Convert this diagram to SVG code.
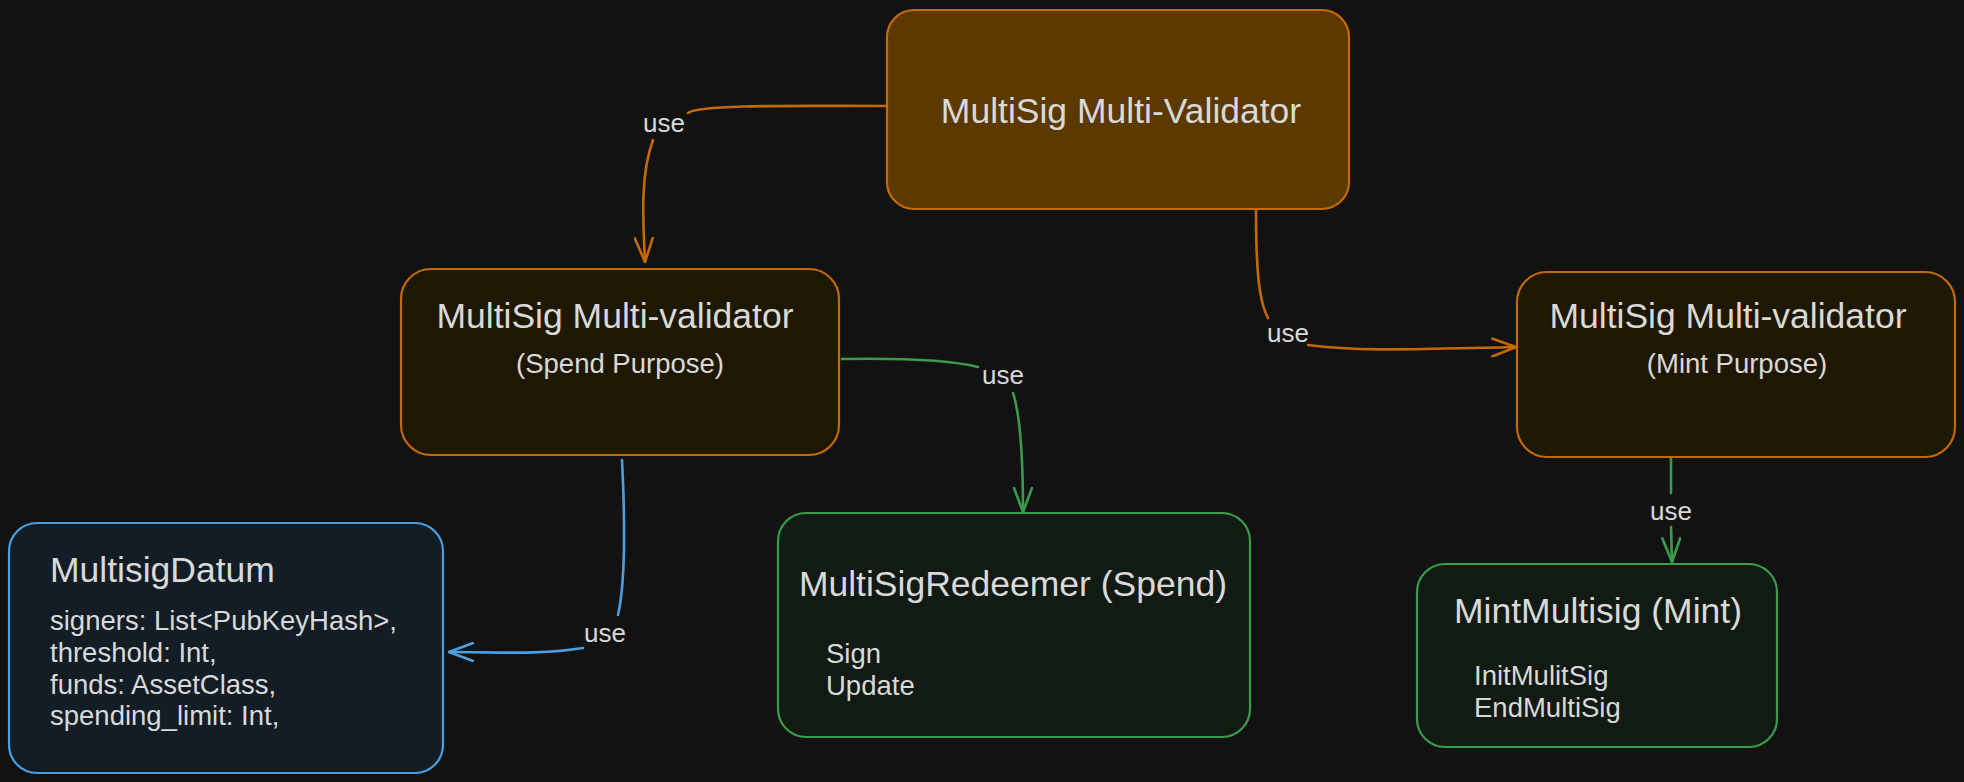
<svg xmlns="http://www.w3.org/2000/svg" width="1964" height="782" viewBox="0 0 1964 782">
  <defs>
    <style>
      .t { font-family: "Liberation Sans", Arial, sans-serif; fill: #d9d9d9; }
      .title { font-size: 35.5px; }
      .sub { font-size: 27.5px; }
      .lbl { font-size: 26px; text-anchor: middle; }
      .mid { text-anchor: middle; }
      .orange { stroke: #c46a05; }
      .green { stroke: #3a9c4a; }
      .blue { stroke: #4a9fe3; }
      .box { stroke-width: 2.2; }
      .conn { fill: none; stroke-width: 2.6; stroke-linecap: round; }
    </style>
    <marker id="arrO" viewBox="0 0 26 20" refX="25" refY="10" markerWidth="26" markerHeight="20" markerUnits="userSpaceOnUse" orient="auto">
      <path d="M1,1 L25,10 L1,19" fill="none" stroke="#c46a05" stroke-width="2.6" stroke-linecap="round" stroke-linejoin="round"/>
    </marker>
    <marker id="arrG" viewBox="0 0 26 20" refX="25" refY="10" markerWidth="26" markerHeight="20" markerUnits="userSpaceOnUse" orient="auto">
      <path d="M1,1 L25,10 L1,19" fill="none" stroke="#3a9c4a" stroke-width="2.6" stroke-linecap="round" stroke-linejoin="round"/>
    </marker>
    <marker id="arrB" viewBox="0 0 26 20" refX="25" refY="10" markerWidth="26" markerHeight="20" markerUnits="userSpaceOnUse" orient="auto">
      <path d="M1,1 L25,10 L1,19" fill="none" stroke="#4a9fe3" stroke-width="2.6" stroke-linecap="round" stroke-linejoin="round"/>
    </marker>
  </defs>

  <rect x="0" y="0" width="1964" height="782" fill="#121212"/>

  <g id="connectors">
    <path class="conn orange" d="M887,106 C800,106 700,104 688,113"/>
    <path class="conn orange" d="M653,140 C640,175 643,220 645,262" marker-end="url(#arrO)"/>
    <text class="t lbl" x="664" y="132">use</text>

    <path class="conn orange" d="M1256,210 C1256,262 1258,300 1268,318"/>
    <path class="conn orange" d="M1308,345 C1360,352 1420,349 1516,347" marker-end="url(#arrO)"/>
    <text class="t lbl" x="1288" y="342">use</text>

    <path class="conn green" d="M842,359 C900,358 950,360 978,367"/>
    <path class="conn green" d="M1013,393 C1022,420 1023,470 1023,512" marker-end="url(#arrG)"/>
    <text class="t lbl" x="1003" y="384">use</text>

    <path class="conn blue" d="M622,460 C625,520 626,580 618,615"/>
    <path class="conn blue" d="M583,648 C540,655 500,652 449,652" marker-end="url(#arrB)"/>
    <text class="t lbl" x="605" y="642">use</text>

    <path class="conn green" d="M1671,458 L1671,493"/>
    <path class="conn green" d="M1671,527 L1672,562" marker-end="url(#arrG)"/>
    <text class="t lbl" x="1671" y="520">use</text>
  </g>

  <g id="node-multi-validator">
    <rect class="box orange" x="887" y="10" width="462" height="199" rx="27" fill="#5c3900"/>
    <text class="t title mid" x="1121" y="123">MultiSig Multi-Validator</text>
  </g>

  <g id="node-spend">
    <rect class="box orange" x="401" y="269" width="438" height="186" rx="30" fill="#1f1800"/>
    <text class="t title mid" x="615" y="328">MultiSig Multi-validator</text>
    <text class="t sub mid" x="620" y="373">(Spend Purpose)</text>
  </g>

  <g id="node-mint">
    <rect class="box orange" x="1517" y="272" width="438" height="185" rx="30" fill="#1f1800"/>
    <text class="t title mid" x="1728" y="328">MultiSig Multi-validator</text>
    <text class="t sub mid" x="1737" y="373">(Mint Purpose)</text>
  </g>

  <g id="node-datum">
    <rect class="box blue" x="9" y="523" width="434" height="250" rx="28" fill="#131d26"/>
    <text class="t title" x="50" y="582">MultisigDatum</text>
    <text class="t sub" x="50" y="630">signers: List&lt;PubKeyHash&gt;,</text>
    <text class="t sub" x="50" y="662">threshold: Int,</text>
    <text class="t sub" x="50" y="694">funds: AssetClass,</text>
    <text class="t sub" x="50" y="725">spending_limit: Int,</text>
  </g>

  <g id="node-redeemer">
    <rect class="box green" x="778" y="513" width="472" height="224" rx="28" fill="#111a13"/>
    <text class="t title mid" x="1013" y="596">MultiSigRedeemer (Spend)</text>
    <text class="t sub" x="826" y="663">Sign</text>
    <text class="t sub" x="826" y="695">Update</text>
  </g>

  <g id="node-mintmultisig">
    <rect class="box green" x="1417" y="564" width="360" height="183" rx="28" fill="#111a13"/>
    <text class="t title mid" x="1598" y="623">MintMultisig (Mint)</text>
    <text class="t sub" x="1474" y="685">InitMulitSig</text>
    <text class="t sub" x="1474" y="717">EndMultiSig</text>
  </g>
</svg>
